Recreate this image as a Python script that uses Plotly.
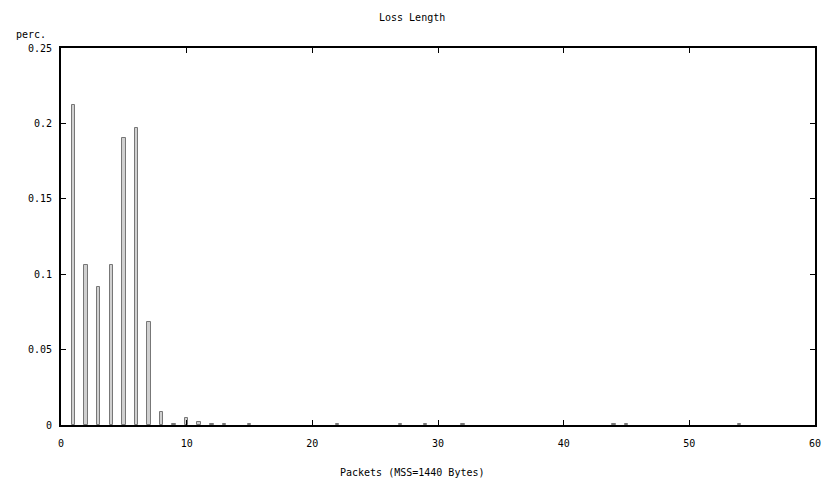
import plotly.graph_objects as go

packets = [1, 2, 3, 4, 5, 6, 7, 8, 9, 10, 11, 12, 13, 15, 22, 27, 29, 32, 44, 45, 54]
perc = [0.212, 0.106, 0.0915, 0.106, 0.19, 0.197, 0.068, 0.0086, 0.0005, 0.0044, 0.0022,
        0.0005, 0.0005, 0.0005, 0.0005, 0.0005, 0.0005, 0.0005, 0.0005, 0.0005, 0.0005]
x_ticks = [0, 10, 20, 30, 40, 50, 60]
y_ticks = [0, 0.05, 0.1, 0.15, 0.2, 0.25]
y_tick_labels = ["0", "0.05", "0.1", "0.15", "0.2", "0.25"]

FONT = dict(family="DejaVu Sans Mono", size=10, color="black")
PAGE_CENTER = (412 - 61) / 754

fig = go.Figure()
fig.add_trace(go.Bar(
    x=packets, y=perc, width=0.28,
    marker=dict(color="#d0d0d0", line=dict(color="#777777", width=1)),
    showlegend=False,
))

fig.update_layout(
    width=824, height=482,
    margin=dict(l=61, r=9, t=48, b=57, autoexpand=False),
    paper_bgcolor="white", plot_bgcolor="white",
    font=FONT,
    bargap=0,
    annotations=[
        dict(text="Loss Length", x=PAGE_CENTER, y=1, xref="paper", yref="paper",
             xanchor="center", yanchor="bottom", yshift=23, showarrow=False, font=FONT),
        dict(text="perc.", x=0, y=1, xref="paper", yref="paper",
             xanchor="right", yanchor="bottom", xshift=-13, yshift=6, showarrow=False, font=FONT),
        dict(text="Packets (MSS=1440 Bytes)", x=PAGE_CENTER, y=0, xref="paper", yref="paper",
             xanchor="center", yanchor="top", yshift=-40, showarrow=False, font=FONT),
    ],
)
fig.update_xaxes(
    range=[0, 60], tickvals=x_ticks, ticks="inside", ticklen=5, tickcolor="black",
    tickwidth=1, showline=True, linecolor="black", linewidth=2, mirror="ticks",
    showgrid=False, zeroline=False, tickfont=FONT, automargin=False,
    ticklabelstandoff=8,
)
fig.update_yaxes(
    range=[0, 0.25], tickvals=y_ticks, ticktext=y_tick_labels, ticks="inside", ticklen=5,
    tickcolor="black", tickwidth=1, showline=True, linecolor="black", linewidth=2,
    mirror="ticks", showgrid=False, zeroline=False, tickfont=FONT, automargin=False,
    ticklabelstandoff=5,
)

fig.write_html("out.html")
